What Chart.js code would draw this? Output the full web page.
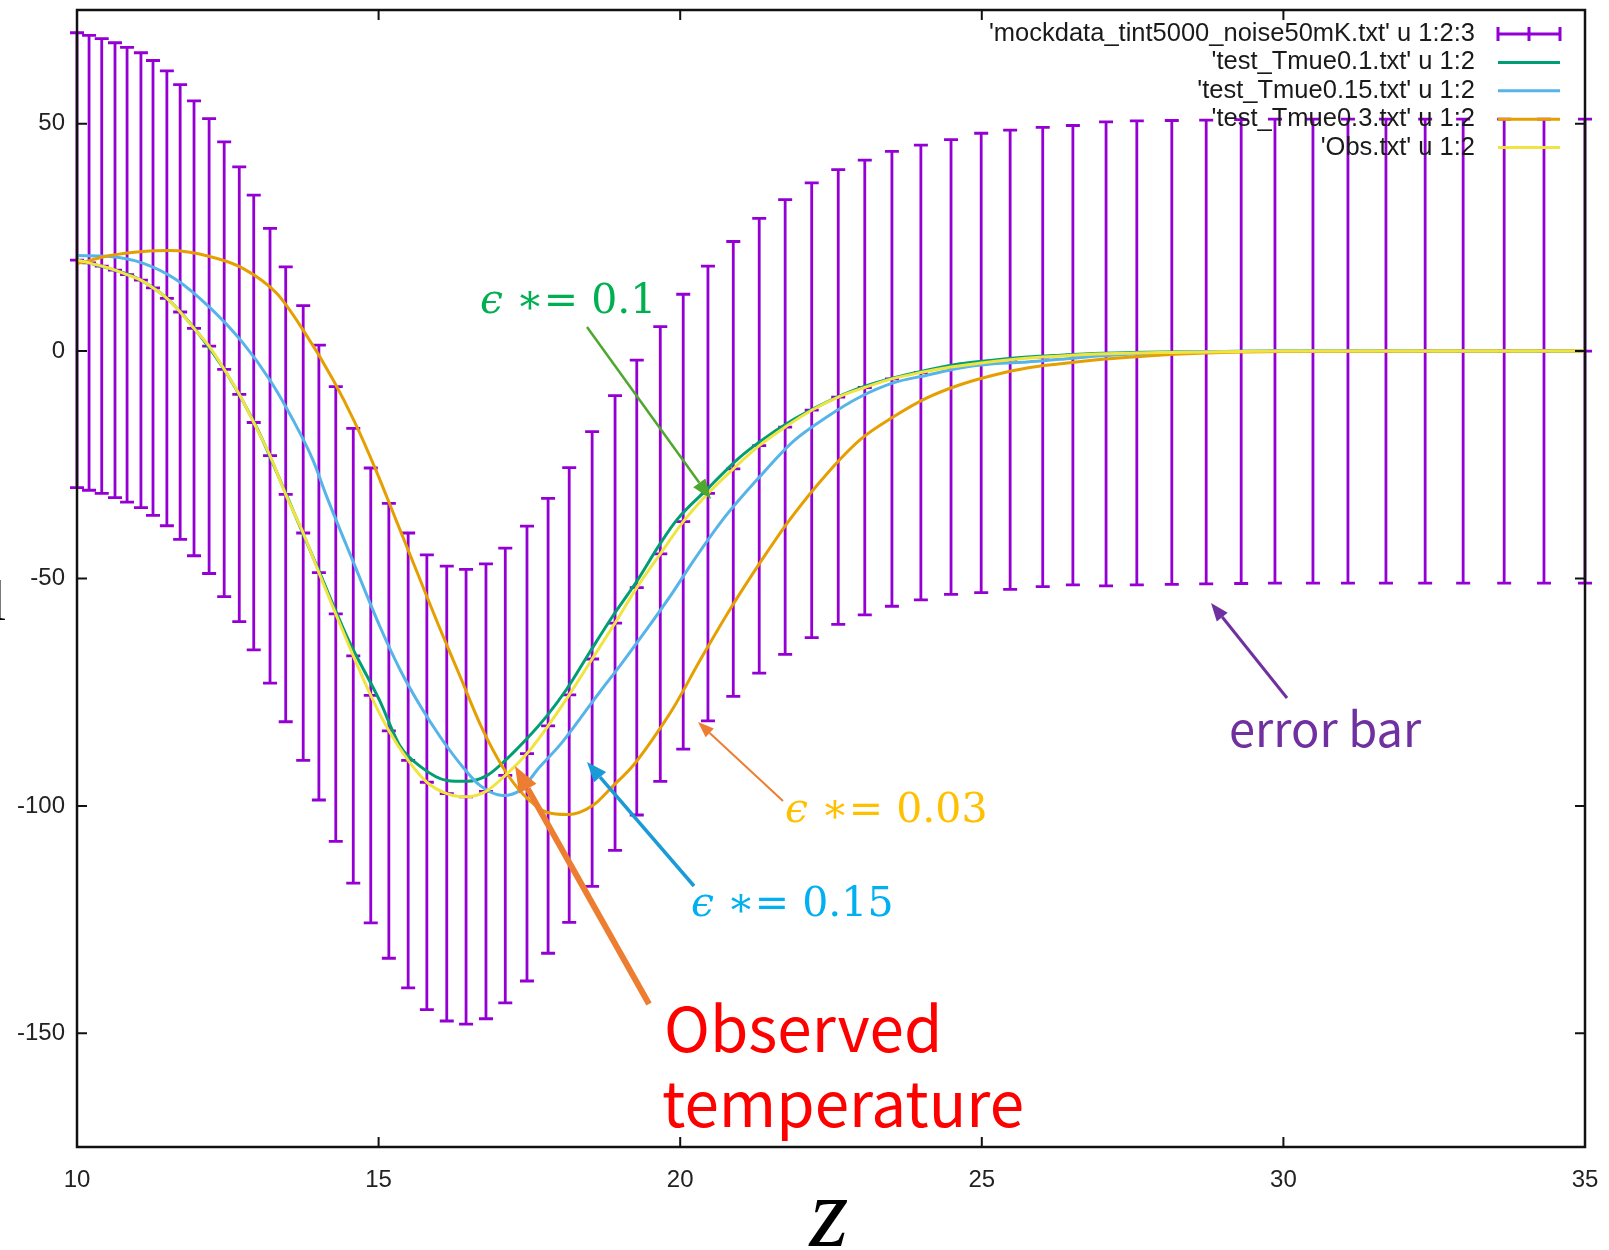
<!DOCTYPE html>
<html>
<head>
<meta charset="utf-8">
<script src="https://cdn.jsdelivr.net/npm/chart.js@4.4.1/dist/chart.umd.min.js"></script>
<style>
  html, body { margin: 0; padding: 0; background: #fff; }
  #wrap { position: relative; width: 1609px; height: 1250px; }
</style>
</head>
<body>
<div id="wrap"><canvas id="tbChart" width="1609" height="1250"></canvas></div>
<script>
// mock data with error bars (z, T, half-width)
const mockZ = [10.00, 10.20, 10.41, 10.63, 10.83, 11.06, 11.26, 11.49, 11.71, 11.94,
  12.19, 12.44, 12.69, 12.93, 13.20, 13.46, 13.75, 14.01, 14.29, 14.58,
  14.87, 15.17, 15.49, 15.80, 16.13, 16.45, 16.78, 17.10, 17.46, 17.81,
  18.16, 18.54, 18.92, 19.28, 19.67, 20.05, 20.46, 20.88, 21.31, 21.74,
  22.18, 22.62, 23.06, 23.51, 23.99, 24.49, 24.99, 25.47, 26.01, 26.51,
  27.06, 27.57, 28.15, 28.72, 29.30, 29.86, 30.49, 31.07, 31.70, 32.35,
  32.98, 33.66, 34.32, 35.00];
const mockT = [20.0, 19.4, 18.7, 17.8, 16.8, 15.6, 13.9, 11.6, 8.6, 5.0,
  1.1, -4.0, -9.5, -15.7, -23.0, -31.5, -40.0, -48.7, -57.8, -67.0,
  -75.7, -83.5, -90.0, -94.8, -97.3, -98.0, -96.8, -93.3, -88.5, -82.4,
  -75.6, -67.7, -59.8, -52.0, -44.6, -37.5, -31.3, -25.9, -20.8, -16.7,
  -13.0, -10.1, -8.0, -6.1, -4.7, -3.5, -2.6, -1.9, -1.3, -0.9,
  -0.6, -0.4, -0.3, -0.2, -0.1, 0, 0, 0, 0, 0,
  0, 0, 0, 0];
const mockErr = [50, 50, 50, 50, 50, 50, 50, 50, 50, 50,
  50, 50, 50, 50, 50, 50, 50, 50, 50, 50,
  50, 50, 50, 50, 50, 50, 50, 50, 50, 50,
  50, 50, 50, 50, 50, 50, 50, 50, 50, 50,
  50, 50, 50, 50, 50, 50, 50.5, 50.5, 50.5, 50.5,
  51, 51, 51, 51, 51, 51, 51, 51, 51, 51,
  51, 51, 51, 51];

// test_Tmue0.1
const tmue01Z = [10.0, 10.5, 11.0, 11.5, 12.0, 12.5, 13.0, 13.5, 14.0, 14.5,
  15.02, 15.35, 15.69, 16.13, 16.47, 16.8, 17.1, 17.46, 17.79, 18.12,
  18.5, 18.88, 19.28, 19.66, 19.95, 20.49, 20.94, 21.32, 21.87, 22.43,
  22.98, 23.53, 24.09, 24.64, 25.19, 25.75, 26.3, 27.0, 28.0, 29.0, 30.0, 35.0];
const tmue01T = [20.0, 18.3, 16.0, 11.5, 4.1, -5.3, -17.4, -32.5, -48.0, -63.5,
  -76.9, -86.7, -91.3, -94.4, -94.6, -93.3, -90.0, -85.2, -80.2, -74.3,
  -66.2, -58.3, -50.6, -42.5, -37.0, -29.8, -23.9, -19.9, -15.1, -11.2,
  -8.1, -5.9, -4.2, -2.8, -2.0, -1.3, -0.9, -0.5, -0.2, -0.1, 0, 0];

// test_Tmue0.15
const tmue015Z = [10.0, 10.55, 11.1, 11.66, 12.2, 12.75, 13.2, 13.58, 13.91, 14.14,
  14.6, 15.02, 15.35, 15.69, 16.02, 16.35, 16.68, 17.06, 17.34, 17.68,
  18.0, 18.34, 18.67, 19.0, 19.45, 19.88, 20.2, 20.71, 21.32, 21.87,
  22.43, 22.98, 23.53, 24.09, 24.64, 25.19, 25.75, 26.3, 27.0, 28.0, 29.0, 30.0, 35.0];
const tmue015T = [21.0, 20.8, 19.3, 15.6, 9.6, 1.8, -6.4, -15.1, -23.9, -32.0,
  -47.0, -60.5, -69.9, -78.0, -84.8, -90.7, -95.5, -97.7, -96.6, -91.3,
  -86.7, -80.8, -74.9, -69.2, -61.1, -53.0, -46.5, -37.0, -27.6, -19.9,
  -14.5, -10.1, -7.0, -5.3, -3.7, -2.8, -2.4, -1.8, -1.0, -0.4, -0.1, 0, 0];

// test_Tmue0.3
const tmue03Z = [10.0, 10.55, 11.1, 11.54, 12.2, 12.75, 13.31, 13.75, 14.25, 14.6,
  14.95, 15.3, 15.65, 16.0, 16.35, 16.7, 17.06, 17.4, 17.79, 18.14,
  18.55, 18.88, 19.22, 19.55, 19.88, 20.35, 20.83, 21.36, 21.82, 22.43,
  22.98, 23.53, 24.09, 24.64, 25.19, 25.75, 26.3, 27.0, 27.8, 28.6, 30.0, 35.0];
const tmue03T = [19.2, 21.0, 21.9, 22.1, 20.8, 18.2, 12.7, 4.6, -6.4, -15.5,
  -26.0, -37.5, -49.0, -60.5, -71.5, -82.5, -91.5, -97.5, -101.4, -101.9,
  -99.9, -95.7, -91.1, -85.2, -78.6, -67.5, -56.7, -45.8, -37.0, -27.0,
  -19.5, -14.5, -10.3, -7.4, -5.3, -3.7, -2.8, -1.8, -1.0, -0.5, -0.1, 0];

const xTicks = [10, 15, 20, 25, 30, 35];
const yTicks = [-150, -100, -50, 0, 50];

const legendLabels = [
  "'mockdata_tint5000_noise50mK.txt' u 1:2:3",
  "'test_Tmue0.1.txt' u 1:2",
  "'test_Tmue0.15.txt' u 1:2",
  "'test_Tmue0.3.txt' u 1:2",
  "'Obs.txt' u 1:2"
];

const COL = {
  bars: '#9400d3',
  green: '#009e73',
  blue: '#56b4e9',
  orange: '#e69f00',
  yellow: '#f0e442'
};
const TICK_FONT = '"Liberation Sans", Arial, sans-serif';

function toXY(zs, ts) {
  return zs.map((z, i) => ({ x: z, y: ts[i] }));
}

function lineSet(label, zs, ts, color) {
  return {
    type: 'line',
    label,
    data: toXY(zs, ts),
    borderColor: color,
    backgroundColor: color,
    borderWidth: 3,
    pointRadius: 0,
    cubicInterpolationMode: 'monotone',
    fill: false,
    clip: false
  };
}

// error bars go under the lines
const errorBarPlugin = {
  id: 'errorBars',
  beforeDatasetsDraw(chart) {
    const { ctx, scales: { x, y } } = chart;
    ctx.save();
    ctx.strokeStyle = COL.bars;
    ctx.lineWidth = 2.8;
    ctx.lineCap = 'butt';
    const cap = 7;
    mockZ.forEach((z, i) => {
      const px = x.getPixelForValue(z);
      const pc = y.getPixelForValue(mockT[i]);
      const pt = y.getPixelForValue(mockT[i] + mockErr[i]);
      const pb = y.getPixelForValue(mockT[i] - mockErr[i]);
      ctx.beginPath();
      ctx.moveTo(px, pt); ctx.lineTo(px, pb);
      ctx.moveTo(px - cap, pt); ctx.lineTo(px + cap, pt);
      ctx.moveTo(px - cap, pb); ctx.lineTo(px + cap, pb);
      ctx.moveTo(px - cap, pc); ctx.lineTo(px + cap, pc);
      ctx.stroke();
    });
    ctx.restore();
  }
};

const framePlugin = {
  id: 'frame',
  afterDatasetsDraw(chart) {
    const { ctx, chartArea: a, scales: { x, y } } = chart;
    ctx.save();
    ctx.strokeStyle = '#111';
    ctx.lineWidth = 2.5;
    ctx.strokeRect(a.left, a.top, a.right - a.left, a.bottom - a.top);
    ctx.lineWidth = 2;
    const tl = 10;
    ctx.beginPath();
    xTicks.forEach(v => {
      const px = x.getPixelForValue(v);
      ctx.moveTo(px, a.bottom); ctx.lineTo(px, a.bottom - tl);
      ctx.moveTo(px, a.top); ctx.lineTo(px, a.top + tl);
    });
    yTicks.forEach(v => {
      const py = y.getPixelForValue(v);
      ctx.moveTo(a.left, py); ctx.lineTo(a.left + tl, py);
      ctx.moveTo(a.right, py); ctx.lineTo(a.right - tl, py);
    });
    ctx.stroke();
    ctx.restore();
  }
};

const keyPlugin = {
  id: 'gnuKey',
  afterDraw(chart) {
    const { ctx } = chart;
    const colors = [COL.bars, COL.green, COL.blue, COL.orange, COL.yellow];
    const textRight = 1475, s0 = 1498, s1 = 1560;
    ctx.save();
    ctx.font = '25.5px ' + TICK_FONT;
    ctx.textAlign = 'right';
    ctx.textBaseline = 'middle';
    legendLabels.forEach((txt, i) => {
      const yy = 34 + i * 28.4;
      ctx.fillStyle = '#1a1a1a';
      ctx.fillText(txt, textRight, yy);
      ctx.strokeStyle = colors[i];
      ctx.lineWidth = 3;
      ctx.beginPath();
      ctx.moveTo(s0, yy); ctx.lineTo(s1, yy);
      if (i === 0) {
        const m = (s0 + s1) / 2;
        ctx.moveTo(s0, yy - 7); ctx.lineTo(s0, yy + 7);
        ctx.moveTo(s1, yy - 7); ctx.lineTo(s1, yy + 7);
        ctx.moveTo(m, yy - 7); ctx.lineTo(m, yy + 7);
      }
      ctx.stroke();
    });
    ctx.restore();
  }
};

function drawArrow(ctx, x1, y1, x2, y2, color, w, headLen, headW) {
  const ang = Math.atan2(y2 - y1, x2 - x1);
  const bx = x2 - headLen * Math.cos(ang);
  const by = y2 - headLen * Math.sin(ang);
  ctx.strokeStyle = color;
  ctx.fillStyle = color;
  ctx.lineWidth = w;
  ctx.beginPath();
  ctx.moveTo(x1, y1);
  ctx.lineTo(bx, by);
  ctx.stroke();
  ctx.beginPath();
  ctx.moveTo(x2, y2);
  ctx.lineTo(bx + headW / 2 * Math.sin(ang), by - headW / 2 * Math.cos(ang));
  ctx.lineTo(bx - headW / 2 * Math.sin(ang), by + headW / 2 * Math.cos(ang));
  ctx.closePath();
  ctx.fill();
}

function epsLabel(ctx, x, y, value, color) {
  ctx.fillStyle = color;
  ctx.textAlign = 'left';
  ctx.textBaseline = 'alphabetic';
  ctx.font = 'italic 41px "DejaVu Serif", serif';
  ctx.fillText('\u03f5', x, y);
  const w = ctx.measureText('\u03f5').width;
  ctx.font = '41px "DejaVu Serif", serif';
  ctx.fillText(' \u2217= ' + value, x + w, y);
}

const notesPlugin = {
  id: 'notes',
  afterDraw(chart) {
    const { ctx } = chart;
    ctx.save();
    // arrows
    drawArrow(ctx, 587, 327, 711, 499, '#4ea72e', 2.5, 20, 15);
    drawArrow(ctx, 783, 801, 698, 722, '#ed7d31', 2, 16, 12);
    drawArrow(ctx, 694, 886, 587, 762, '#1a9ad6', 3.5, 20, 16);
    drawArrow(ctx, 649, 1004, 515, 766, '#ed7d31', 6, 26, 20);
    drawArrow(ctx, 1287, 698, 1211, 603, '#7030a0', 3, 18, 14);

    epsLabel(ctx, 480, 313, '0.1', '#00b050');
    epsLabel(ctx, 785, 822, '0.03', '#ffc000');
    epsLabel(ctx, 691, 916, '0.15', '#00b0f0');

    ctx.textAlign = 'left';
    ctx.textBaseline = 'alphabetic';
    ctx.fillStyle = '#ff0000';
    ctx.font = '62px "Noto Sans CJK JP", "Noto Sans", sans-serif';
    ctx.fillText('Observed', 664, 1052);
    ctx.fillText('temperature', 662, 1127);

    ctx.fillStyle = '#7030a0';
    ctx.font = '47px "Noto Sans CJK JP", "Noto Sans", sans-serif';
    ctx.fillText('error bar', 1229, 747);

    // axis title fragments
    ctx.fillStyle = '#000';
    ctx.font = 'italic 100px "Liberation Serif", serif';
    ctx.textAlign = 'center';
    ctx.fillText('z', 829, 1246);
    ctx.font = '56px "Liberation Serif", serif';
    ctx.textAlign = 'right';
    ctx.fillText('l', 6, 620);
    ctx.restore();
  }
};

new Chart(document.getElementById('tbChart'), {
  type: 'scatter',
  data: {
    datasets: [
      lineSet("'Obs.txt' u 1:2", mockZ, mockT, COL.yellow),
      lineSet("'test_Tmue0.3.txt' u 1:2", tmue03Z, tmue03T, COL.orange),
      lineSet("'test_Tmue0.15.txt' u 1:2", tmue015Z, tmue015T, COL.blue),
      lineSet("'test_Tmue0.1.txt' u 1:2", tmue01Z, tmue01T, COL.green)
    ]
  },
  options: {
    responsive: false,
    animation: false,
    devicePixelRatio: 1,
    layout: { padding: { top: 10, right: 24, left: 0, bottom: 0 } },
    plugins: {
      legend: { display: false },
      tooltip: { enabled: false }
    },
    scales: {
      x: {
        type: 'linear',
        min: 10,
        max: 35,
        grid: { display: false },
        border: { display: false },
        afterBuildTicks: s => { s.ticks = xTicks.map(v => ({ value: v })); },
        afterFit: s => { s.height = 103; s.paddingLeft = 0; s.paddingRight = 0; },
        ticks: {
          autoSkip: false,
          maxRotation: 0,
          padding: 11,
          color: '#222',
          font: { family: TICK_FONT, size: 24 }
        }
      },
      y: {
        type: 'linear',
        min: -175,
        max: 75,
        grid: { display: false },
        border: { display: false },
        afterBuildTicks: s => { s.ticks = yTicks.map(v => ({ value: v })); },
        afterFit: s => { s.width = 77; s.paddingTop = 0; s.paddingBottom = 0; },
        ticks: {
          autoSkip: false,
          padding: 4,
          color: '#222',
          font: { family: TICK_FONT, size: 24 }
        }
      }
    }
  },
  plugins: [errorBarPlugin, framePlugin, keyPlugin, notesPlugin]
});
</script>
</body>
</html>
